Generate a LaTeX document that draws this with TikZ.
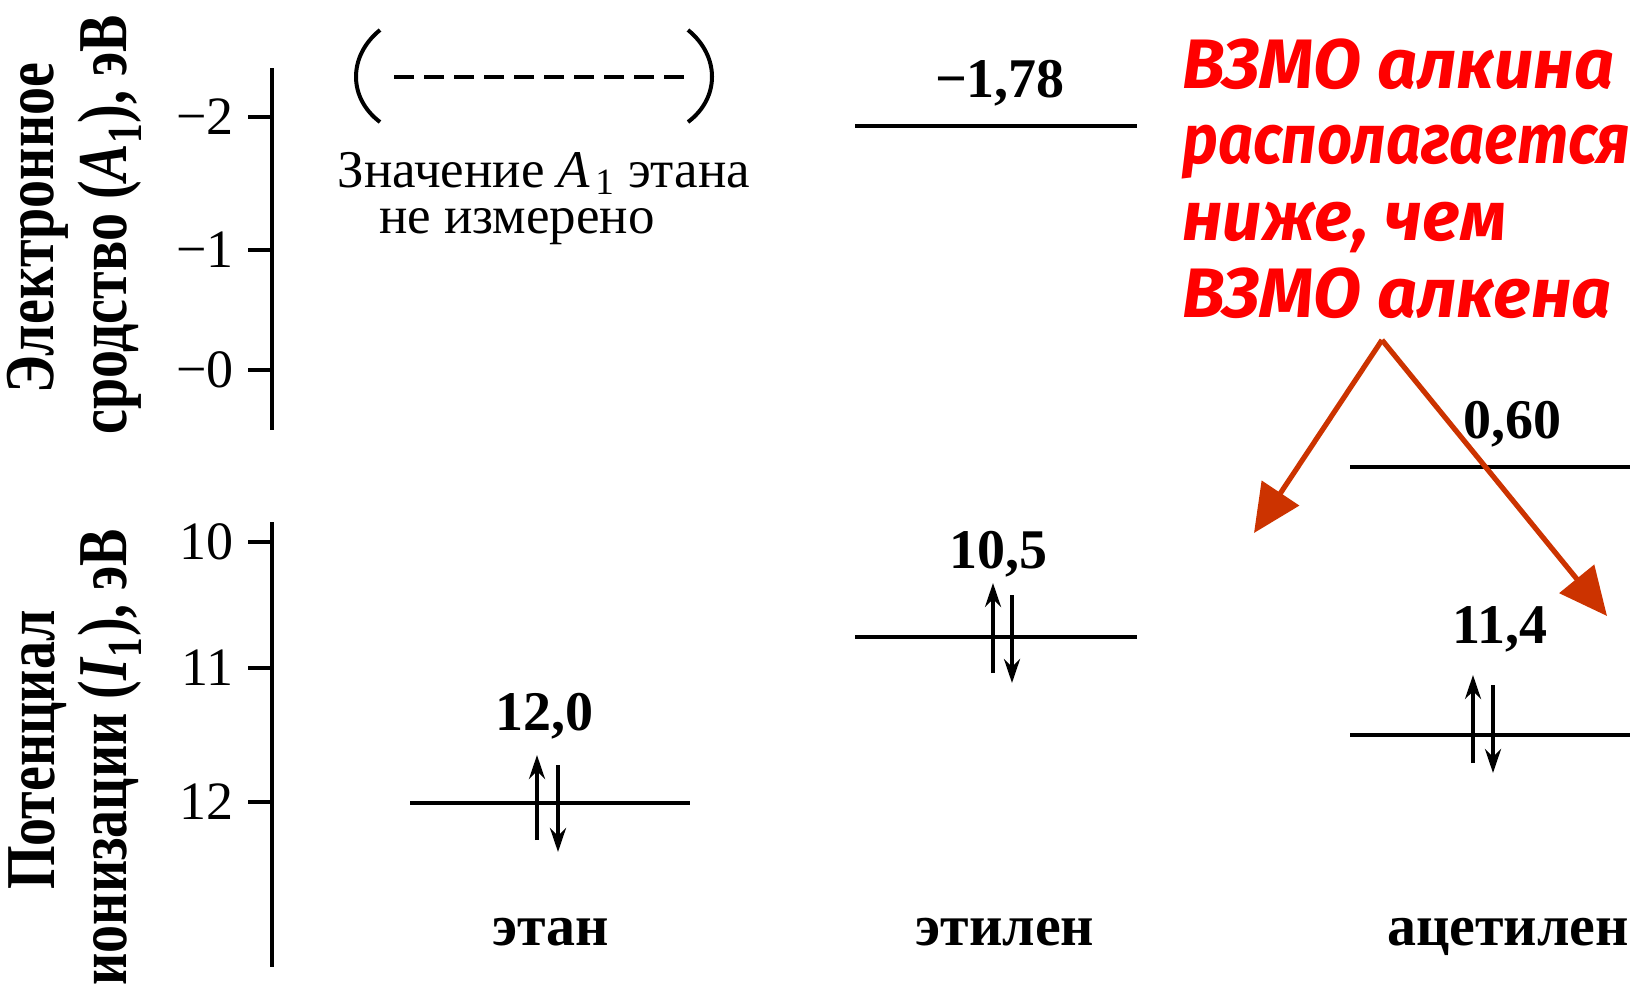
\documentclass[tikz,border=0pt]{standalone}
\usepackage{fontspec}
\usepackage{graphicx}
\setmainfont{Liberation Serif}
\newfontfamily\redfont{Fira Sans}
\usetikzlibrary{arrows.meta}
\definecolor{arrowred}{RGB}{204,51,0}
\definecolor{textred}{RGB}{255,0,0}
\begin{document}
\begin{tikzpicture}[x=0.5pt,y=-0.5pt,
  lvl/.style={line width=2pt},
  axisline/.style={line width=2pt},
  tickline/.style={line width=2pt},
  ticklbl/.style={anchor=east,inner sep=0pt,font=\fontsize{27}{30}\selectfont},
  val/.style={anchor=base,inner sep=0pt,font=\bfseries\fontsize{28}{32}\selectfont},
  molname/.style={anchor=base,inner sep=0pt,font=\bfseries\fontsize{29}{32}\selectfont},
  axtitle/.style={rotate=90,inner sep=0pt,font=\bfseries\fontsize{35}{38}\selectfont},
  note/.style={anchor=base,inner sep=0pt,font=\fontsize{26.5}{28}\selectfont},
  spin/.style={line width=2pt,-{Stealth[length=12pt,width=8pt]}},
  redtxt/.style={anchor=base west,inner sep=0pt,text=textred,font=\redfont\bfseries\itshape\fontsize{35}{38}\selectfont},
  redarrow/.style={draw=arrowred,line width=2.6pt,-{Triangle[length=24pt,width=22pt]}}
]
\useasboundingbox (0,0) rectangle (1639,993);

% axis titles
\node[axtitle] (t1) at (38,228) {\scalebox{0.8}[1]{Электронное}};
\node[axtitle] (t2) at (110,225) {\scalebox{0.8}[1]{сродство (\textit{A}\textsubscript{1}), эВ}};
\node[axtitle] (t3) at (38,750) {\scalebox{0.8}[1]{Потенциал}};
\node[axtitle] (t4) at (110,757) {\scalebox{0.8}[1]{ионизации (\textit{I}\textsubscript{1}), эВ}};

% upper axis
\coordinate (uatop) at (272,68);
\coordinate (uabot) at (272,430);
\draw[axisline] (uatop) -- (uabot);
\foreach \y/\lab/\nm in {117/−2/um2,250/−1/um1,370/−0/um0}{
  \coordinate (\nm t) at (248,\y);
  \coordinate (\nm a) at (272,\y);
  \draw[tickline] (\nm t) -- (\nm a);
  \node[ticklbl] (\nm) at (234,\y) {\lab};
}
% lower axis
\coordinate (latop) at (272,522);
\coordinate (labot) at (272,967);
\draw[axisline] (latop) -- (labot);
\foreach \y/\lab/\nm in {542/10/l10,668/11/l11,802/12/l12}{
  \coordinate (\nm t) at (248,\y);
  \coordinate (\nm a) at (272,\y);
  \draw[tickline] (\nm t) -- (\nm a);
  \node[ticklbl] (\nm) at (234,\y) {\lab};
}

% ethane note
\draw[line width=2pt] (380,30) .. controls (348,56) and (348,98) .. (380,122);
\draw[line width=2pt] (688,30) .. controls (720,56) and (720,98) .. (688,122);
\coordinate (dashL) at (394,77);
\coordinate (dashR) at (686,77);
\draw[line width=2pt,dash pattern=on 10pt off 5pt] (dashL) -- (dashR);
\node[note] (n1) at (544,187) {Значение \textit{A}\kern2.5pt\textsubscript{1} этана};
\node[note] (n2) at (517,233) {не измерено};

% ethane
\coordinate (etL) at (410,803);
\coordinate (etR) at (690,803);
\draw[lvl] (etL) -- (etR);
\node[val] (v120) at (544,730) {12,0};
\coordinate (etu1) at (537,840); \coordinate (etu2) at (537,755);
\coordinate (etd1) at (558,765); \coordinate (etd2) at (558,852);
\draw[spin] (etu1) -- (etu2);
\draw[spin] (etd1) -- (etd2);
\node[molname] (etan) at (551,945) {этан};

% ethylene
\coordinate (eyAL) at (855,126);
\coordinate (eyAR) at (1137,126);
\draw[lvl] (eyAL) -- (eyAR);
\node[val] (v178) at (1000,97) {−1,78};
\coordinate (eyIL) at (855,637);
\coordinate (eyIR) at (1137,637);
\draw[lvl] (eyIL) -- (eyIR);
\node[val] (v105) at (998,568) {10,5};
\coordinate (eyu1) at (993,673); \coordinate (eyu2) at (993,583);
\coordinate (eyd1) at (1012,595); \coordinate (eyd2) at (1012,683);
\draw[spin] (eyu1) -- (eyu2);
\draw[spin] (eyd1) -- (eyd2);
\node[molname] (etilen) at (1005,945) {этилен};

% acetylene
\coordinate (acAL) at (1350,467);
\coordinate (acAR) at (1630,467);
\draw[lvl] (acAL) -- (acAR);
\node[val] (v060) at (1512,438) {0,60};
\coordinate (acIL) at (1350,735);
\coordinate (acIR) at (1630,735);
\draw[lvl] (acIL) -- (acIR);
\node[val] (v114) at (1500,643) {11,4};
\coordinate (acu1) at (1473,763); \coordinate (acu2) at (1473,675);
\coordinate (acd1) at (1493,685); \coordinate (acd2) at (1493,773);
\draw[spin] (acu1) -- (acu2);
\draw[spin] (acd1) -- (acd2);
\node[molname] (acetilen) at (1508,945) {ацетилен};

% red annotation
\node[redtxt] (r1) at (1182,88) {ВЗМО алкина};
\node[redtxt] (r2) at (1182,163) {\resizebox{224pt}{\height}{располагается}};
\node[redtxt] (r3) at (1182,240) {ниже, чем};
\node[redtxt] (r4) at (1182,317) {ВЗМО алкена};
\coordinate (apex) at (1382,340);
\coordinate (tipL) at (1254,533);
\coordinate (tipR) at (1607,616);
\draw[redarrow] (apex) -- (tipL);
\draw[redarrow] (apex) -- (tipR);
\end{tikzpicture}
\end{document}
